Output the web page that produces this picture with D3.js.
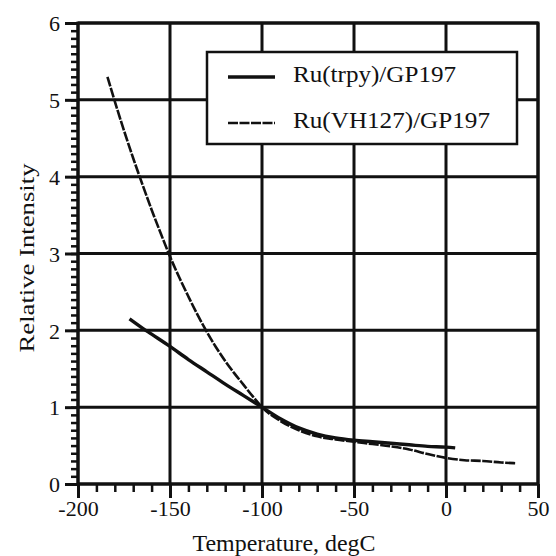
<!DOCTYPE html>
<html>
<head>
<meta charset="utf-8">
<script src="https://cdn.jsdelivr.net/npm/d3@7"></script>
<style>
  body { margin: 0; background: #fff; }
  svg { display: block; }
  text { font-family: "Liberation Serif", "DejaVu Serif", serif; fill: #111; }
</style>
</head>
<body>
<svg id="chart" width="556" height="556"></svg>
<script>
// values
var xTicks = [-200, -150, -100, -50, 0, 50];
var yTicks = [0, 1, 2, 3, 4, 5, 6];

// Ru(trpy)/GP197 -- solid
var trpyTemp = [-172, -165, -160, -150, -140, -130, -120, -110, -100, -90, -80, -70, -60, -50, -40, -30, -20, -10, 0, 5];
var trpyVal  = [2.15, 2.03, 1.95, 1.79, 1.62, 1.46, 1.3, 1.15, 1.0, 0.85, 0.73, 0.65, 0.6, 0.57, 0.55, 0.53, 0.51, 0.49, 0.48, 0.47];

// Ru(VH127)/GP197 -- dashed
var vhTemp = [-184, -180, -175, -170, -165, -160, -155, -150, -145, -140, -135, -130, -125, -120, -115, -110, -105, -100,
              -90, -80, -70, -60, -50, -40, -30, -20, -10, 0, 10, 20, 30, 38];
var vhVal  = [5.3, 4.98, 4.6, 4.24, 3.9, 3.57, 3.26, 2.96, 2.69, 2.44, 2.2, 1.98, 1.78, 1.6, 1.44, 1.29, 1.14, 1.0,
              0.82, 0.7, 0.62, 0.58, 0.55, 0.52, 0.49, 0.45, 0.39, 0.34, 0.31, 0.3, 0.28, 0.27];

var names = ["Ru(trpy)/GP197", "Ru(VH127)/GP197"];

var margin = {top: 23, right: 18, bottom: 72, left: 78},
    width = 556 - margin.left - margin.right,
    height = 556 - margin.top - margin.bottom;

var svg = d3.select("#chart");
var g = svg.append("g").attr("transform", "translate(" + margin.left + "," + margin.top + ")");

var x = d3.scaleLinear().domain([-200, 50]).range([0, width]);
var y = d3.scaleLinear().domain([0, 6]).range([height, 0]);

// plain hyphen labels like the scan, not the unicode minus
var fmt = function(d) { return String(d); };

// grid lines (thick, like the original)
var grid = g.append("g").attr("class", "grid");
grid.selectAll("line.v").data(xTicks).enter().append("line")
    .attr("x1", function(d) { return x(d); }).attr("x2", function(d) { return x(d); })
    .attr("y1", 0).attr("y2", height)
    .attr("stroke", "#111").attr("stroke-width", 3);
grid.selectAll("line.h").data(yTicks).enter().append("line")
    .attr("y1", function(d) { return y(d); }).attr("y2", function(d) { return y(d); })
    .attr("x1", 0).attr("x2", width)
    .attr("stroke", "#111").attr("stroke-width", 3);

// minor ticks
var xMinor = d3.range(-200, 51, 10);
var yMinor = d3.range(0, 61, 1).map(function(d) { return d / 10; });

g.append("g").attr("transform", "translate(0," + height + ")")
    .call(d3.axisBottom(x).tickValues(xMinor).tickSize(8).tickFormat(""))
    .call(function(a) { a.select(".domain").remove(); a.selectAll("line").attr("stroke", "#111").attr("stroke-width", 2.5); });
g.append("g")
    .call(d3.axisLeft(y).tickValues(yMinor).tickSize(7).tickFormat(""))
    .call(function(a) { a.select(".domain").remove(); a.selectAll("line").attr("stroke", "#111").attr("stroke-width", 2.5); });

// major ticks + labels
var xAxis = g.append("g").attr("transform", "translate(0," + height + ")")
    .call(d3.axisBottom(x).tickValues(xTicks).tickSize(14).tickPadding(2).tickFormat(fmt));
var yAxis = g.append("g")
    .call(d3.axisLeft(y).tickValues(yTicks).tickSize(13).tickPadding(5).tickFormat(fmt));
[xAxis, yAxis].forEach(function(a) {
  a.select(".domain").remove();
  a.selectAll("line").attr("stroke", "#111").attr("stroke-width", 3);
  a.selectAll("text").style("font-size", "22px").attr("fill", "#111");
});
yAxis.selectAll("text").attr("dy", "0.35em");

// frame
g.append("rect").attr("width", width).attr("height", height)
    .attr("fill", "none").attr("stroke", "#111").attr("stroke-width", 3);

// curves
var line = d3.line()
    .x(function(d) { return x(d[0]); })
    .y(function(d) { return y(d[1]); })
    .curve(d3.curveMonotoneX);

var trpy = trpyTemp.map(function(t, i) { return [t, trpyVal[i]]; });
var vh = vhTemp.map(function(t, i) { return [t, vhVal[i]]; });

g.append("path").datum(vh).attr("d", line)
    .attr("fill", "none").attr("stroke", "#111").attr("stroke-width", 2.6)
    .attr("stroke-dasharray", "10,1.5");
g.append("path").datum(trpy).attr("d", line)
    .attr("fill", "none").attr("stroke", "#111").attr("stroke-width", 3.4);

// legend
var lx = 207 - margin.left, ly = 52 - margin.top;
var legend = g.append("g").attr("transform", "translate(" + lx + "," + ly + ")");
legend.append("rect").attr("width", 310).attr("height", 92)
    .attr("fill", "#fff").attr("stroke", "#111").attr("stroke-width", 2.5);
var rows = [
  {name: names[0], dash: null, w: 3.4, textLen: 163},
  {name: names[1], dash: "10,1.5", w: 2.6, textLen: 197}
];
rows.forEach(function(r, i) {
  var yy = 25 + i * 46;
  legend.append("line").attr("x1", 21).attr("x2", 68).attr("y1", yy).attr("y2", yy)
      .attr("stroke", "#111").attr("stroke-width", r.w)
      .attr("stroke-dasharray", r.dash);
  legend.append("text").attr("x", 86).attr("y", yy + 5)
      .style("font-size", "24px")
      .attr("textLength", r.textLen).attr("lengthAdjust", "spacingAndGlyphs")
      .text(r.name);
});

// axis titles
svg.append("text").attr("x", 284).attr("y", 551)
    .attr("text-anchor", "middle").style("font-size", "23px")
    .attr("textLength", 183).attr("lengthAdjust", "spacingAndGlyphs")
    .text("Temperature, degC");
svg.append("text")
    .attr("transform", "translate(34,258) rotate(-90)")
    .attr("text-anchor", "middle").style("font-size", "22px")
    .attr("textLength", 189).attr("lengthAdjust", "spacingAndGlyphs")
    .text("Relative Intensity");
</script>
</body>
</html>
